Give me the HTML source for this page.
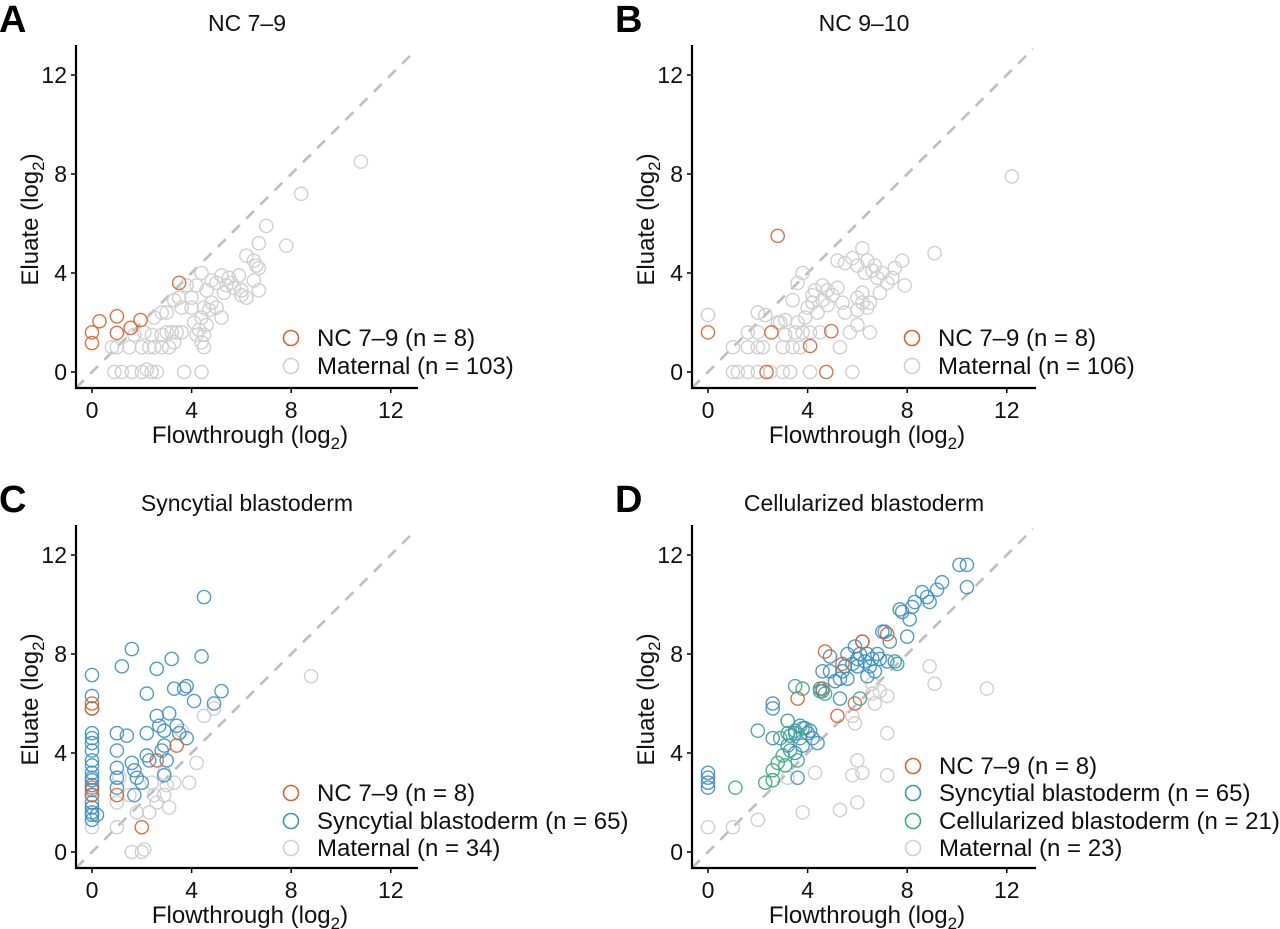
<!DOCTYPE html>
<html><head><meta charset="utf-8"><style>
body{margin:0;background:#fff;}
svg{display:block;font-family:"Liberation Sans",Arial,sans-serif;}
</style></head><body>
<svg id="fig" width="1280" height="929" viewBox="0 0 1280 929" xmlns="http://www.w3.org/2000/svg"></svg>
<script>
const xTicks=[0,4,8,12];
const yTicks=[0,4,8,12];
const tickLabels=["0","4","8","12"];
const panelTitles=["NC 7–9","NC 9–10","Syncytial blastoderm","Cellularized blastoderm"];
const panelLetters=["A","B","C","D"];
// Panel A
const aOrangeX=[0,0,0.3,1,1,1.55,1.95,3.5];
const aOrangeY=[1.17,1.6,2.05,2.25,1.58,1.78,2.1,3.6];
const aGrayX=[0.8,1,1.5,2,2.3,2.5,2.8,3.1,3.3,4.4,4.5,0.9,1.2,1.6,2,2.2,2.4,2.6,3.7,4.4,1.7,2.1,2.4,2.8,3.0,3.2,3.4,3.6,2.5,2.8,3.0,3.3,3.5,3.6,4.0,4.1,4.3,4.4,4.5,4.6,4.8,5.0,5.2,4.2,4.4,4.6,4.8,5.0,5.2,5.4,5.3,5.5,5.7,5.9,6.0,6.2,6.5,6.7,6.0,6.2,6.5,6.6,6.7,6.7,7.0,7.8,8.4,10.8,4.0,4.7,3.8,5.6,4.2,4.5];
const aGrayY=[1,1,1,1,1,1,1,1,1.2,1.2,1.5,0,0,0,0,0.1,0,0,0,0,1.5,1.6,1.5,1.5,1.6,1.6,1.6,1.6,2.2,2.4,2.4,2.9,3.0,2.6,2.6,2.0,1.7,2.2,2.6,1.9,2.8,2.6,2.2,3.5,4.0,3.3,3.7,3.6,3.9,3.5,3.2,3.8,3.4,3.9,3.3,3.0,3.7,3.3,3.1,4.7,4.5,4.3,4.2,5.2,5.9,5.1,7.2,8.5,3.0,2.5,3.5,3.6,1.5,1.0];
// Panel B
const bOrangeX=[0,2.8,2.55,4.1,4.95,2.35,4.75];
const bOrangeY=[1.6,5.5,1.6,1.05,1.65,0,0];
const bGrayX=[0,1,1.2,1,1.6,2,2.5,3,3.3,4.1,5.8,1.6,2,2.2,3,3.4,3.7,5.3,1.6,2,2.3,2,2.8,3.1,3.5,3.8,4.1,4.5,5.7,6.5,3.6,3.9,4.0,4.2,4.4,4.6,4.8,5.0,4.3,4.6,5.2,3.4,3.6,3.8,4.2,5.5,5.4,6,6,6.2,6.4,6.5,6.2,6.0,5.2,5.5,5.8,6.0,6.2,6.4,6.6,6.3,6.8,7.0,7.2,7.4,7.5,7.9,7.8,9.1,12.2,6.7,6.9,4.8,3.1,2.9];
const bGrayY=[2.3,1,0,0,0,0,0,0,0,0,0,1,1,1,1,1,1,1,1.6,1.6,2.3,2.4,2,1.5,1.6,1.6,1.6,1.6,1.6,1.6,2,2.2,2.6,2.8,2.4,2.9,2.7,3.1,3.3,3.5,3.4,2.9,3.6,4.0,3.1,2.4,2.8,2.5,3.0,2.8,2.6,2.8,3.2,1.9,4.5,4.4,4.6,4.3,5.0,4.5,4.1,4.0,3.8,4.0,3.6,3.8,4.2,3.5,4.5,4.8,7.9,4.3,3.2,3.3,2.1,2.0];
// Panel C
const cGrayX=[0,1,1,1.6,2,2.1,1.8,2.3,2.6,2.9,3.1,2.4,2.9,3.3,3.9,4.2,4.5,4.9,8.8,1.1,2.5,1.5,3.0,3.6];
const cGrayY=[1.0,1,2,0,0,0.1,1.6,1.6,2.0,2.3,1.8,2.8,3.2,2.8,2.8,3.6,5.5,5.8,7.1,3.0,2.3,2.3,2.7,4.9];
const cOrangeX=[0,0,0,0,1,2,2.6,3.4];
const cOrangeY=[6.0,5.8,2.6,2.3,2.3,1.0,3.7,4.3];
const cBlueX=[0,0,0,0,0,0,0,0,0,0,0,0,0,0,0,0,0,0,0,0,1,1,1,1,1,1.4,1.2,1.6,1.6,1.7,1.8,1.7,2.0,2.2,2.2,2.3,2.2,2.6,2.6,2.7,2.9,2.9,2.8,3.0,2.9,3.1,3.2,3.3,3.4,3.5,3.8,3.7,3.8,4.1,4.4,4.5,4.9,5.2,0.2];
const cBlueY=[7.15,6.3,5.8,4.8,4.6,4.4,4.1,3.7,3.5,3.2,3.0,2.9,2.7,2.5,2.3,2.0,1.8,1.6,1.5,1.3,4.8,4.1,3.4,3.0,2.6,4.7,7.5,8.2,3.6,3.3,3.0,2.3,2.8,3.9,4.8,3.7,6.4,7.4,5.5,5.1,4.9,4.3,4.1,3.7,3.1,5.6,7.8,6.6,5.1,4.8,4.6,6.6,6.7,6.1,7.9,10.3,6.0,6.5,1.5];
// Panel D
const dGrayX=[0,1.0,2.0,3.8,5.3,6.0,3.2,4.3,5.8,6.0,6.2,7.2,5.8,5.9,7.2,6.6,6.7,6.9,7.2,8.9,9.1,11.2,6.6];
const dGrayY=[1.0,1.0,1.3,1.6,1.7,2.0,3.0,3.2,3.1,3.7,3.2,3.1,5.5,5.2,4.8,6.4,6.0,6.5,6.3,7.5,6.8,6.6,6.8];
const dBlueX=[0,0,0,0,2.6,2.6,2.6,3.2,3.3,3.2,3.5,3.5,3.7,3.8,3.6,4.0,4.2,4.4,4.5,4.6,4.6,4.9,4.9,5.1,5.3,5.3,5.5,5.6,5.6,5.8,5.9,6.0,6.1,6.2,6.3,6.4,6.5,6.6,6.7,6.9,6.8,7.0,7.3,7.5,7.2,7.8,8.0,8.1,8.2,8.3,8.6,8.8,8.9,9.2,9.4,10.1,10.4,10.4,7.7,6.0,5.4,4.1,3.9,7.1,6.4];
const dBlueY=[3.2,3.0,2.8,2.6,6.0,5.8,4.6,5.3,4.7,4.3,4.0,4.8,5.1,4.3,3.0,4.8,4.6,4.4,6.6,6.5,7.3,7.3,7.9,6.9,7.0,6.2,7.5,7.0,8.0,7.6,8.3,7.8,8.0,8.5,7.7,8.0,7.5,7.8,7.3,7.8,8.0,8.9,8.5,7.7,7.7,9.7,8.7,9.4,9.9,10.1,10.5,10.3,10.1,10.6,10.9,11.6,11.6,10.7,9.8,7.5,7.3,4.9,5.0,8.9,7.1];
const dOrangeX=[3.6,4.7,4.6,5.2,5.4,5.9,6.2,7.2];
const dOrangeY=[6.2,8.1,6.6,5.5,7.6,6.0,8.5,8.8];
const dGreenX=[1.1,2.0,2.3,2.6,2.6,2.8,3.0,3.2,3.3,3.5,3.6,3.7,3.8,3.5,3.8,4.5,4.7,6.1,7.6,3.1,2.9];
const dGreenY=[2.6,4.9,2.8,2.9,3.3,3.6,3.9,4.8,4.1,4.9,3.7,4.6,5.0,6.7,6.6,6.5,6.4,6.2,7.6,3.5,4.6];

const COL={orange:"#d9622f",blue:"#3c8fc6",green:"#3aa981",gray:"#cfcfcf"};
const NS="http://www.w3.org/2000/svg";
const svg=document.getElementById('fig');
function mk(tag,attrs,parent){const e=document.createElementNS(NS,tag);for(const k in attrs)e.setAttribute(k,attrs[k]);(parent||svg).appendChild(e);return e;}

const panels=[
 {ox:92,oy:372,axX:76,axY:388,right:418,top:45,series:[["gray",aGrayX,aGrayY],["orange",aOrangeX,aOrangeY]],legend:[["orange","NC 7–9 (n = 8)"],["gray","Maternal (n = 103)"]],legX:291,legY:[338,366]},
 {ox:708,oy:372,axX:692,axY:388,right:1036,top:45,series:[["gray",bGrayX,bGrayY],["orange",bOrangeX,bOrangeY]],legend:[["orange","NC 7–9 (n = 8)"],["gray","Maternal (n = 106)"]],legX:912,legY:[338,366]},
 {ox:92,oy:852,axX:76,axY:868,right:418,top:525,series:[["gray",cGrayX,cGrayY],["blue",cBlueX,cBlueY],["orange",cOrangeX,cOrangeY]],legend:[["orange","NC 7–9 (n = 8)"],["blue","Syncytial blastoderm (n = 65)"],["gray","Maternal (n = 34)"]],legX:291,legY:[793,821,848]},
 {ox:708,oy:852,axX:692,axY:868,right:1036,top:525,series:[["gray",dGrayX,dGrayY],["blue",dBlueX,dBlueY],["orange",dOrangeX,dOrangeY],["green",dGreenX,dGreenY]],legend:[["orange","NC 7–9 (n = 8)"],["blue","Syncytial blastoderm (n = 65)"],["green","Cellularized blastoderm (n = 21)"],["gray","Maternal (n = 23)"]],legX:913,legY:[766,793,821,848]}
];
const SX=24.9, SY=24.75;
panels.forEach((p,i)=>{
  const g=mk('g',{});
  
  
  const xs=v=>p.ox+v*SX, ys=v=>p.oy-v*SY;
  const cx=(p.ox+p.right)/2-8;
  const L=mk('text',{x:p.axX-77,y:p.top-13,'font-size':38,'font-weight':'bold'},g);L.textContent=panelLetters[i];
  
  
  const T=mk('text',{x:cx,y:p.top-14,'font-size':23,'text-anchor':'middle',fill:'#111'},g);T.textContent=panelTitles[i];
  
  
  const d0=(p.axX-p.ox)/SX, d1=(p.right-3-p.ox)/SX;
  const dl=mk('line',{x1:xs(d0),y1:ys(d0),x2:xs(d1),y2:ys(d1),stroke:'#bdbdbd','stroke-width':2.6,'stroke-dasharray':'11,9'},g);
  
  
  p.series.forEach(s=>{
    const [c,X,Y]=s;
    X.forEach((v,j)=>{
      const pt=mk('circle',{cx:xs(v),cy:ys(Y[j]),r:6.6,fill:'none',stroke:COL[c],'stroke-width':1.4,opacity:c==='gray'?1:0.9},g);
      
      
    });
  });
  const ya=mk('line',{x1:p.axX,y1:p.top,x2:p.axX,y2:p.axY+1,stroke:'#000','stroke-width':2.2},g);
  
  
  const xa=mk('line',{x1:p.axX-1,y1:p.axY,x2:p.right,y2:p.axY,stroke:'#000','stroke-width':2.2},g);
  
  
  xTicks.forEach((t,j)=>{
    mk('line',{x1:xs(t),y1:p.axY,x2:xs(t),y2:p.axY+5,stroke:'#000','stroke-width':1.5},g);
    const tl=mk('text',{x:xs(t),y:p.axY+30,'font-size':23,'text-anchor':'middle',fill:'#111'},g);tl.textContent=tickLabels[j];
    
    
  });
  yTicks.forEach((t,j)=>{
    mk('line',{x1:p.axX-5,y1:ys(t),x2:p.axX,y2:ys(t),stroke:'#000','stroke-width':1.5},g);
    const tl=mk('text',{x:p.axX-9,y:ys(t)+8,'font-size':23,'text-anchor':'end',fill:'#111'},g);tl.textContent=tickLabels[j];
    
    
  });
  const xt=mk('text',{x:(p.axX+p.right)/2+3,y:p.axY+55,'font-size':24,'text-anchor':'middle',fill:'#111'},g);
  xt.innerHTML='Flowthrough (log<tspan font-size="17" dy="6">2</tspan><tspan dy="-6">)</tspan>';
  
  
  const ymid=(p.top+p.axY)/2+3;
  const yt=mk('text',{x:0,y:0,'font-size':24,'text-anchor':'middle',fill:'#111',transform:`translate(${p.axX-38},${ymid}) rotate(-90)`},g);
  yt.innerHTML='Eluate (log<tspan font-size="17" dy="6">2</tspan><tspan dy="-6">)</tspan>';
  
  
  p.legend.forEach((e,j)=>{
    const lc=mk('circle',{cx:p.legX,cy:p.legY[j],r:7.5,fill:'none',stroke:COL[e[0]],'stroke-width':1.6},g);
    
    
    const lt=mk('text',{x:p.legX+26,y:p.legY[j]+8,'font-size':24,fill:'#111'},g);lt.textContent=e[1];
    
    
  });
});
</script>
</body></html>
